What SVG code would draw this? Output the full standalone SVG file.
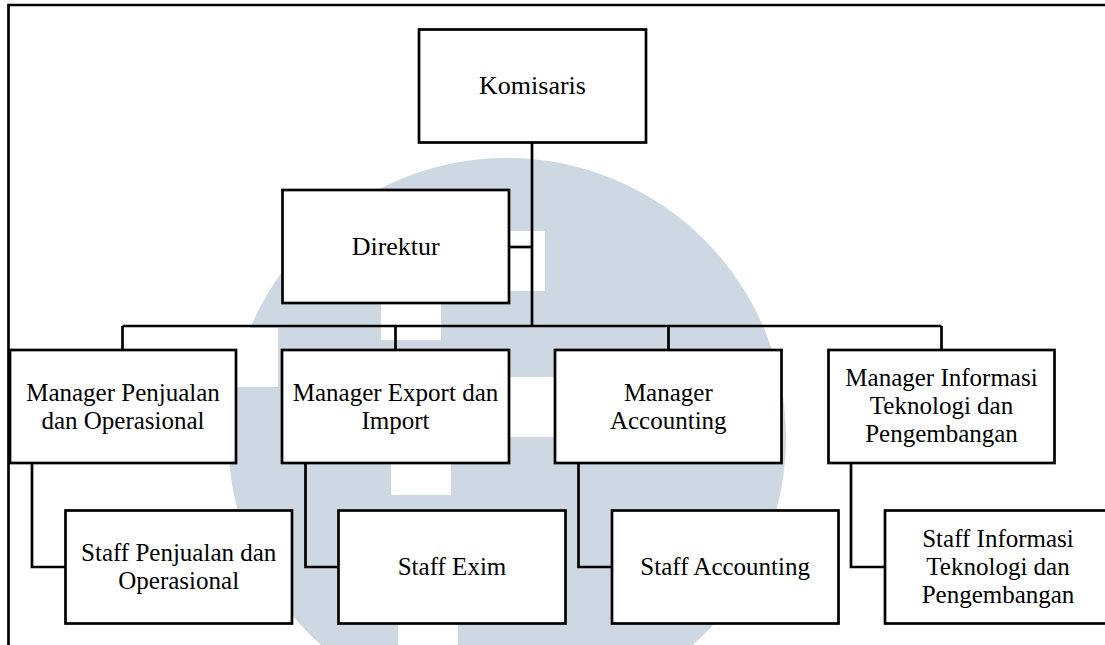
<svg xmlns="http://www.w3.org/2000/svg" width="1105" height="645" viewBox="0 0 1105 645">
<style>
.box{fill:#ffffff;stroke:#000000;stroke-width:2.7}
.ln{fill:none;stroke:#000000;stroke-width:2.7}
.t{font-family:"Liberation Serif","Times New Roman",serif;font-size:25px;text-anchor:middle;fill:#000000}
.wm{fill:#CDD8E2}
.wc{fill:#ffffff}
</style>
<rect x="0" y="0" width="1105" height="645" fill="#ffffff"/>
<g id="watermark">
<circle class="wm" cx="507" cy="437" r="279"/>
<rect class="wc" x="500" y="231" width="45" height="60"/>
<rect class="wc" x="381" y="280" width="60" height="60"/>
<rect class="wc" x="236" y="328" width="42" height="59"/>
<rect class="wc" x="509" y="377" width="46" height="60"/>
<rect class="wc" x="391" y="463" width="60" height="32"/>
<rect class="wc" x="398" y="623" width="60" height="30"/>
</g>
<path class="ln" d="M8.5,645 V5 H1105"/>
<g id="connectors">
<path class="ln" d="M532,143 V326"/>
<path class="ln" d="M509,247 H532"/>
<path class="ln" d="M122.5,326 H941.5"/>
<path class="ln" d="M122.5,326 V350"/>
<path class="ln" d="M395.5,326 V350"/>
<path class="ln" d="M668.5,326 V350"/>
<path class="ln" d="M941.5,326 V350"/>
<path class="ln" d="M32,463 V567 H65.5"/>
<path class="ln" d="M305.5,463 V567 H338.5"/>
<path class="ln" d="M578.5,463 V567 H612"/>
<path class="ln" d="M851,463 V567 H885"/>
</g>
<g id="komisaris">
<rect class="box" x="419" y="29.5" width="227" height="113"/>
<text class="t" x="532.5" y="94" style="font-size:26px">Komisaris</text>
</g>
<g id="direktur">
<rect class="box" x="282.5" y="190" width="226.5" height="113"/>
<text class="t" x="395.7" y="255" style="font-size:26px">Direktur</text>
</g>
<g id="manager-penjualan">
<rect class="box" x="10" y="350" width="226" height="113"/>
<text class="t" x="123" y="400.5">Manager Penjualan</text>
<text class="t" x="123" y="428.5">dan Operasional</text>
</g>
<g id="manager-export">
<rect class="box" x="282" y="350" width="227" height="113"/>
<text class="t" x="395.5" y="400.5">Manager Export dan</text>
<text class="t" x="395.5" y="428.5">Import</text>
</g>
<g id="manager-accounting">
<rect class="box" x="555" y="350" width="226.5" height="113"/>
<text class="t" x="668.3" y="400.5">Manager</text>
<text class="t" x="668.3" y="428.5">Accounting</text>
</g>
<g id="manager-informasi">
<rect class="box" x="828.5" y="350" width="226" height="113"/>
<text class="t" x="941.5" y="386">Manager Informasi</text>
<text class="t" x="941.5" y="414">Teknologi dan</text>
<text class="t" x="941.5" y="442">Pengembangan</text>
</g>
<g id="staff-penjualan">
<rect class="box" x="65.5" y="510.5" width="226.5" height="113"/>
<text class="t" x="178.7" y="560.5">Staff Penjualan dan</text>
<text class="t" x="178.7" y="588.5">Operasional</text>
</g>
<g id="staff-exim">
<rect class="box" x="338.5" y="510.5" width="227" height="113"/>
<text class="t" x="452" y="575">Staff Exim</text>
</g>
<g id="staff-accounting">
<rect class="box" x="612" y="510.5" width="226.5" height="113"/>
<text class="t" x="725.2" y="575">Staff Accounting</text>
</g>
<g id="staff-informasi">
<rect class="box" x="885" y="510.5" width="227" height="113"/>
<text class="t" x="998" y="547">Staff Informasi</text>
<text class="t" x="998" y="575">Teknologi dan</text>
<text class="t" x="998" y="603">Pengembangan</text>
</g>
</svg>
